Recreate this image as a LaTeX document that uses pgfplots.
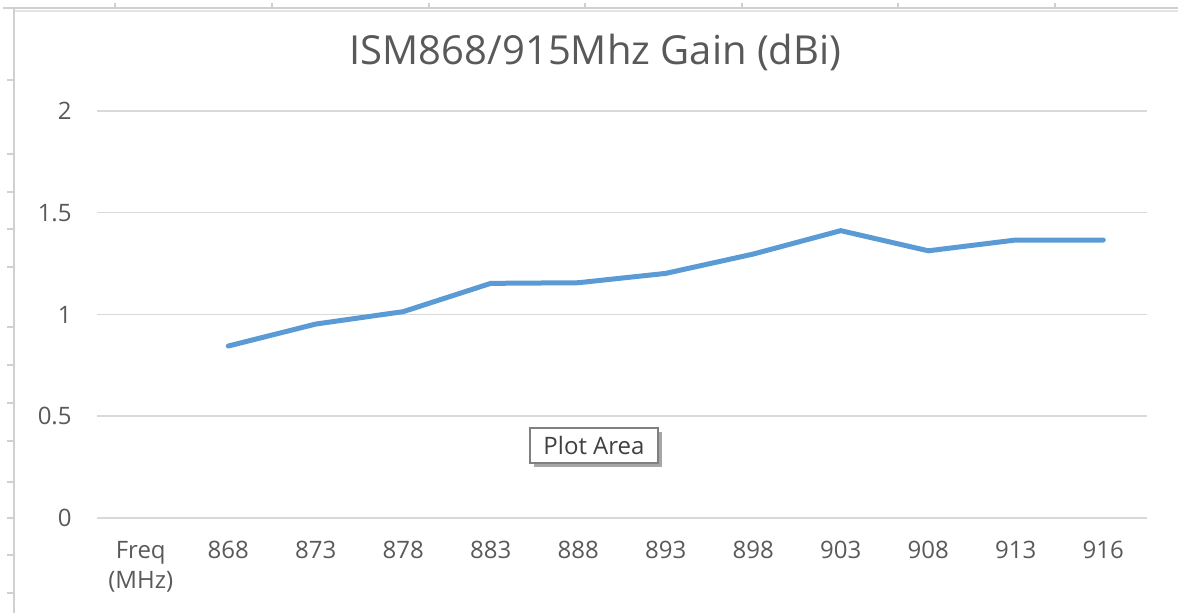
\documentclass[border=0pt]{standalone}
\usepackage{fontspec}
\setmainfont{Open Sans}
\usepackage{pgfplots}
\pgfplotsset{compat=1.18}
\definecolor{txtgray}{HTML}{595959}
\definecolor{gridgray}{HTML}{D9D9D9}
\definecolor{lineblue}{HTML}{5B9BD5}
\definecolor{framegray}{HTML}{D0D0D0}
\begin{document}
\begin{tikzpicture}
\begin{scope}[x=0.5pt,y=-0.5pt,yshift=306.5pt]
% bounding box (pixel coordinates, y downward)
\path[use as bounding box] (0,0) rectangle (1178,613);
% sheet frame
\draw[framegray, line width=1.2pt] (3,8) -- (1178,8);
\draw[gridgray!70, line width=0.6pt] (14,11) -- (1178,11);
\draw[framegray, line width=0.7pt] (14,8) -- (14,613);
\foreach \x in {115,272,429,585,742,898,1055} \draw[framegray, line width=0.7pt] (\x,3) -- (\x,8);
\foreach \y in {80,154,192,229,267,327,365,403,441,482,518,555,593} \draw[framegray, line width=0.7pt] (7,\y) -- (14,\y);
% title
\node[anchor=base, text=txtgray, inner sep=0pt] at (595.5,65) {\fontsize{20}{24}\selectfont ISM868/915Mhz Gain (dBi)};
\end{scope}
\begin{axis}[
  at={(48.5pt,47.5pt)}, anchor=south west,
  scale only axis, width=525pt, height=203.5pt,
  xmin=-0.5, xmax=11.5, ymin=0, ymax=2,
  xtick={0,1,2,3,4,5,6,7,8,9,10,11},
  xticklabels={{Freq\\(MHz)},868,873,878,883,888,893,898,903,908,913,916},
  ytick={0,0.5,1,1.5,2},
  yticklabels={0,0.5,1,1.5,2},
  axis line style={draw=none},
  tick style={draw=none},
  ymajorgrids,
  grid style={color=gridgray, line width=0.75pt},
  tick label style={text=txtgray, font=\fontsize{12}{15}\selectfont},
  xticklabel style={anchor=north, align=center, inner sep=0pt},
  xticklabel shift=11.5pt,
  yticklabel style={anchor=east, inner sep=0pt},
  yticklabel shift=12.5pt,
  clip=false,
]
\addplot[lineblue, line width=2.5pt, line join=round, line cap=round] coordinates {
  (1,0.845) (2,0.953) (3,1.014) (4,1.153) (5,1.156) (6,1.202)
  (7,1.297) (8,1.412) (9,1.313) (10,1.366) (11,1.366)
};
\end{axis}
\begin{scope}[x=0.5pt,y=-0.5pt,yshift=306.5pt]
% tooltip
\fill[black!35] (534,432) rectangle (662,467);
\fill[white, draw=black!50, line width=0.7pt] (530,428) rectangle (658,463);
\node[text=black!75, inner sep=0pt] at (594,445.5) {\fontsize{12}{14}\selectfont Plot Area};
\end{scope}
\end{tikzpicture}
\end{document}
